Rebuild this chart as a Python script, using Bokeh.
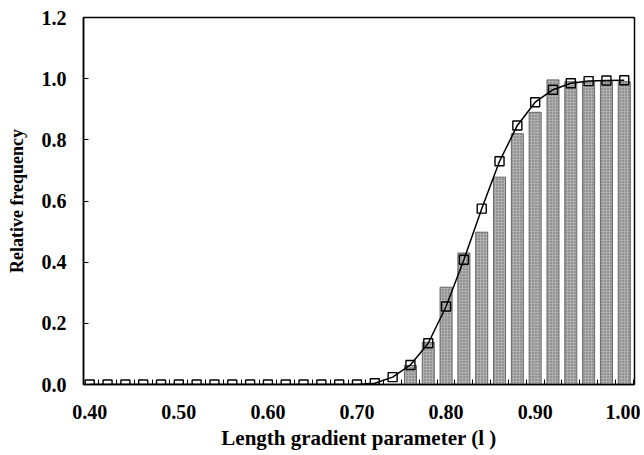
from bokeh.plotting import figure
from bokeh.models import FixedTicker, PrintfTickFormatter, Range1d
from bokeh.embed import file_html
from bokeh.resources import INLINE

# model (squares + curve)
x_model = [0.40, 0.42, 0.44, 0.46, 0.48, 0.50, 0.52, 0.54, 0.56, 0.58, 0.60,
           0.62, 0.64, 0.66, 0.68, 0.70, 0.72, 0.74, 0.76, 0.78, 0.80, 0.82,
           0.84, 0.86, 0.88, 0.90, 0.92, 0.94, 0.96, 0.98, 1.00]
y_model = [0.0, 0.0, 0.0, 0.0, 0.0, 0.0, 0.0, 0.0, 0.0, 0.0, 0.0,
           0.0, 0.0, 0.0, 0.0, 0.0, 0.004, 0.024, 0.064, 0.135, 0.255, 0.408,
           0.575, 0.730, 0.847, 0.923, 0.964, 0.985, 0.992, 0.994, 0.995]

# observed relative frequency (bars)
x_bars = [0.76, 0.78, 0.80, 0.82, 0.84, 0.86, 0.88, 0.90, 0.92, 0.94, 0.96, 0.98, 1.00]
y_bars = [0.062, 0.138, 0.318, 0.430, 0.498, 0.678, 0.820, 0.890, 0.996, 0.990, 0.990, 0.990, 0.990]

x_ticks = [0.40, 0.50, 0.60, 0.70, 0.80, 0.90, 1.00]
x_minor_ticks = [0.41, 0.43, 0.45, 0.47, 0.49, 0.51, 0.53, 0.55, 0.57, 0.59, 0.61,
                 0.63, 0.65, 0.67, 0.69, 0.71, 0.73, 0.75, 0.77, 0.79, 0.81, 0.83,
                 0.85, 0.87, 0.89, 0.91, 0.93, 0.95, 0.97, 0.99, 1.01]
y_ticks = [0.0, 0.2, 0.4, 0.6, 0.8, 1.0, 1.2]

FONT = "Liberation Serif"

p = figure(width=640, height=454, output_backend="svg", toolbar_location=None,
           x_range=Range1d(0.393, 1.0115), y_range=Range1d(0.0, 1.2),
           min_border_left=83, min_border_right=6, min_border_top=17, min_border_bottom=70)

p.background_fill_color = "white"
p.border_fill_color = "white"
p.outline_line_color = "black"
p.outline_line_width = 1.5
p.xgrid.visible = False
p.ygrid.visible = False

p.vbar(x=x_bars, top=y_bars, bottom=0, width=0.0135,
       fill_color="#b0b0b0", line_color="#686868", line_width=1,
       hatch_pattern="dot", hatch_color="#555555", hatch_scale=3, hatch_alpha=0.85)

p.line(x_model, y_model, line_color="black", line_width=1.5)
p.scatter(x_model, y_model, marker="square", size=9, fill_alpha=0,
          line_color="black", line_width=1.4)

xa = p.xaxis[0]
xa.ticker = FixedTicker(ticks=x_ticks, minor_ticks=x_minor_ticks)
xa.formatter = PrintfTickFormatter(format="%.2f")
xa.major_tick_in = 0
xa.major_tick_out = 0
xa.minor_tick_in = 5
xa.minor_tick_out = 0
xa.minor_tick_line_color = "black"
xa.axis_line_color = "black"
xa.axis_line_width = 1.5
xa.major_label_standoff = 20
xa.major_label_text_font = FONT
xa.major_label_text_font_style = "bold"
xa.major_label_text_font_size = "20px"
xa.major_label_text_color = "black"
xa.axis_label = "Length gradient parameter (l )"
xa.axis_label_text_font = FONT
xa.axis_label_text_font_style = "bold"
xa.axis_label_text_font_size = "21px"
xa.axis_label_text_color = "black"
xa.axis_label_standoff = 4

ya = p.yaxis[0]
ya.ticker = FixedTicker(ticks=y_ticks, minor_ticks=[])
ya.formatter = PrintfTickFormatter(format="%.1f")
ya.major_tick_in = 5
ya.major_tick_out = 0
ya.minor_tick_in = 0
ya.minor_tick_out = 0
ya.axis_line_color = "black"
ya.axis_line_width = 1.5
ya.major_label_standoff = 17
ya.major_label_text_font = FONT
ya.major_label_text_font_style = "bold"
ya.major_label_text_font_size = "20px"
ya.major_label_text_color = "black"
ya.axis_label = "Relative frequency"
ya.axis_label_text_font = FONT
ya.axis_label_text_font_style = "bold"
ya.axis_label_text_font_size = "18px"
ya.axis_label_text_color = "black"
ya.axis_label_standoff = 12

open("out.html", "w").write(file_html(p, INLINE))
